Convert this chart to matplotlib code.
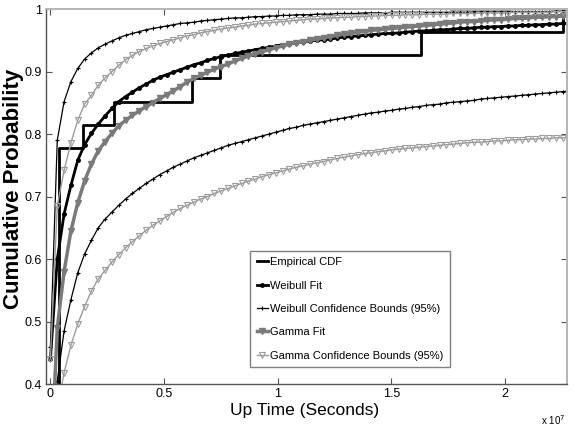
import numpy as np
import matplotlib
matplotlib.use("Agg")
import matplotlib.pyplot as plt
from matplotlib.ticker import FixedLocator, FuncFormatter

# --- DATOS ---
# muestras de tiempo en segundos (paso regular de 3e5 s)
x_grid = 2e4 + 3e5 * np.arange(77)

weibull_up = [
    0.460, 0.790, 0.852, 0.884, 0.905, 0.920, 0.930, 0.938, 0.944, 0.949,
    0.954, 0.958, 0.961, 0.964, 0.967, 0.969, 0.971, 0.973, 0.975, 0.977,
    0.978, 0.979, 0.981, 0.982, 0.983, 0.984, 0.985, 0.986, 0.986, 0.987,
    0.988, 0.988, 0.989, 0.989, 0.990, 0.990, 0.991, 0.991, 0.991, 0.992,
    0.992, 0.992, 0.993, 0.993, 0.993, 0.993, 0.994, 0.994, 0.994, 0.994,
    0.995, 0.995, 0.995, 0.995, 0.995, 0.995, 0.995, 0.995, 0.995, 0.995,
    0.995, 0.995, 0.996, 0.996, 0.996, 0.996, 0.996, 0.996, 0.996, 0.996,
    0.996, 0.996, 0.996, 0.996, 0.997, 0.997, 0.997]

weibull_fit = [
    0.440, 0.600, 0.672, 0.718, 0.758, 0.783, 0.801, 0.816, 0.829, 0.841,
    0.852, 0.860, 0.867, 0.874, 0.880, 0.886, 0.891, 0.895, 0.899, 0.903,
    0.907, 0.911, 0.914, 0.918, 0.921, 0.924, 0.926, 0.929, 0.931, 0.933,
    0.935, 0.937, 0.939, 0.941, 0.943, 0.944, 0.946, 0.947, 0.949, 0.950,
    0.951, 0.952, 0.954, 0.955, 0.956, 0.957, 0.958, 0.959, 0.960, 0.961,
    0.961, 0.962, 0.963, 0.964, 0.965, 0.965, 0.966, 0.967, 0.967, 0.968,
    0.969, 0.969, 0.970, 0.971, 0.971, 0.972, 0.972, 0.973, 0.973, 0.974,
    0.974, 0.975, 0.975, 0.976, 0.976, 0.977, 0.977]

weibull_low = [
    0.150, 0.405, 0.485, 0.535, 0.578, 0.608, 0.630, 0.650, 0.664, 0.675,
    0.686, 0.696, 0.705, 0.713, 0.721, 0.728, 0.735, 0.741, 0.747, 0.752,
    0.757, 0.762, 0.766, 0.770, 0.774, 0.778, 0.782, 0.785, 0.788, 0.791,
    0.794, 0.797, 0.800, 0.803, 0.806, 0.809, 0.811, 0.814, 0.816, 0.818,
    0.820, 0.822, 0.824, 0.826, 0.828, 0.830, 0.832, 0.834, 0.835, 0.837,
    0.838, 0.840, 0.841, 0.843, 0.844, 0.846, 0.847, 0.848, 0.850, 0.851,
    0.852, 0.853, 0.854, 0.856, 0.857, 0.858, 0.859, 0.860, 0.861, 0.862,
    0.863, 0.864, 0.865, 0.866, 0.867, 0.868, 0.869]

gamma_up = [
    0.440, 0.685, 0.742, 0.786, 0.822, 0.848, 0.862, 0.878, 0.890, 0.900,
    0.910, 0.919, 0.926, 0.932, 0.937, 0.941, 0.945, 0.948, 0.951, 0.954,
    0.957, 0.959, 0.962, 0.964, 0.966, 0.968, 0.970, 0.971, 0.973, 0.974,
    0.976, 0.977, 0.978, 0.979, 0.980, 0.981, 0.982, 0.983, 0.984, 0.984,
    0.985, 0.986, 0.986, 0.987, 0.987, 0.988, 0.988, 0.989, 0.989, 0.990,
    0.990, 0.990, 0.991, 0.991, 0.991, 0.992, 0.992, 0.992, 0.992, 0.993,
    0.993, 0.993, 0.993, 0.994, 0.994, 0.994, 0.994, 0.994, 0.995, 0.995,
    0.995, 0.995, 0.995, 0.995, 0.996, 0.996, 0.996]

gamma_fit = [
    0.250, 0.490, 0.580, 0.645, 0.690, 0.725, 0.752, 0.773, 0.788, 0.801,
    0.813, 0.822, 0.830, 0.837, 0.844, 0.850, 0.857, 0.863, 0.869, 0.876,
    0.883, 0.889, 0.894, 0.899, 0.904, 0.908, 0.912, 0.917, 0.921, 0.925,
    0.928, 0.932, 0.935, 0.938, 0.941, 0.944, 0.946, 0.948, 0.950, 0.952,
    0.954, 0.956, 0.958, 0.960, 0.961, 0.963, 0.964, 0.966, 0.967, 0.968,
    0.969, 0.970, 0.971, 0.972, 0.973, 0.974, 0.975, 0.976, 0.977, 0.978,
    0.979, 0.980, 0.980, 0.981, 0.982, 0.983, 0.983, 0.984, 0.985, 0.985,
    0.986, 0.987, 0.987, 0.988, 0.988, 0.989, 0.989]

gamma_low = [
    0.100, 0.360, 0.418, 0.462, 0.496, 0.524, 0.549, 0.568, 0.582, 0.595,
    0.607, 0.618, 0.628, 0.637, 0.646, 0.654, 0.661, 0.668, 0.675, 0.681,
    0.686, 0.691, 0.696, 0.700, 0.705, 0.709, 0.713, 0.717, 0.721, 0.725,
    0.728, 0.732, 0.735, 0.738, 0.741, 0.744, 0.747, 0.749, 0.752, 0.754,
    0.756, 0.759, 0.761, 0.763, 0.765, 0.767, 0.769, 0.770, 0.772, 0.773,
    0.775, 0.776, 0.777, 0.778, 0.779, 0.780, 0.781, 0.782, 0.783, 0.784,
    0.785, 0.786, 0.787, 0.787, 0.788, 0.789, 0.789, 0.790, 0.791, 0.791,
    0.792, 0.792, 0.793, 0.793, 0.794, 0.794, 0.795]

# CDF empirica (escalones)
ecdf_x = [0.0, 4.0e5, 1.45e6, 2.82e6, 6.26e6, 7.49e6, 1.63e7, 2.255e7, 2.4e7]
ecdf_y = [0.0, 0.778, 0.815, 0.852, 0.889, 0.926, 0.963, 1.0, 1.0]

x_ticks = [0, 0.5e7, 1e7, 1.5e7, 2e7]
y_ticks = [0.4, 0.5, 0.6, 0.7, 0.8, 0.9, 1.0]

# --- ESTILO ---
FUENTE = ['Liberation Sans', 'DejaVu Sans']
GRIS = '#7a7a7a'
GRIS_CLARO = '#9c9c9c'

fig = plt.figure(figsize=(5.79, 4.34), dpi=100)
ax = fig.add_axes([0.0794, 0.115, 0.9, 0.864])

ax.step(ecdf_x, ecdf_y, where='post', color='black', lw=2.0,
        label='Empirical CDF')
ax.plot(x_grid, weibull_fit, color='black', lw=2.0, marker='.', ms=5,
        label='Weibull Fit')
ax.plot(x_grid, weibull_up, color='black', lw=0.9, marker='+', ms=3.5,
        mew=0.8, label='Weibull Confidence Bounds (95%)')
ax.plot(x_grid, weibull_low, color='black', lw=0.9, marker='+', ms=3.5,
        mew=0.8)
ax.plot(x_grid, gamma_fit, color=GRIS, lw=2.5, marker='v', ms=4.5,
        label='Gamma Fit')
ax.plot(x_grid, gamma_up, color=GRIS_CLARO, lw=1.0, marker='v', ms=4,
        mfc='none', mew=0.8, label='Gamma Confidence Bounds (95%)')
ax.plot(x_grid, gamma_low, color=GRIS_CLARO, lw=1.0, marker='v', ms=4,
        mfc='none', mew=0.8)

ax.set_xlim(-1.76e5, 2.272e7)
ax.set_ylim(0.4, 1.0)

ax.xaxis.set_major_locator(FixedLocator(x_ticks))
ax.yaxis.set_major_locator(FixedLocator(y_ticks))
ax.xaxis.set_major_formatter(FuncFormatter(lambda v, p: '%g' % (v / 1e7)))
ax.yaxis.set_major_formatter(FuncFormatter(lambda v, p: '%g' % v))
ax.tick_params(direction='in', length=4, width=0.8, color='#555555',
               top=True, right=True, labelsize=9, pad=3)
for lab in ax.get_xticklabels() + ax.get_yticklabels():
    lab.set_family(FUENTE)

for lado in ['left', 'bottom']:
    ax.spines[lado].set_color('#555555')
    ax.spines[lado].set_linewidth(1.0)
for lado in ['top', 'right']:
    ax.spines[lado].set_color('#b5b5b5')
    ax.spines[lado].set_linewidth(1.4)

ax.set_xlabel('Up Time (Seconds)', family=FUENTE, fontsize=12.5)
ax.xaxis.set_label_coords(0.497, -0.05)
ax.set_ylabel('Cumulative Probability', family=FUENTE, fontsize=16,
              fontweight='bold')
ax.yaxis.set_label_coords(-0.043, 0.52)
fig.text(565 / 579, 1 - 420 / 434, r'x 10$^7$', ha='right', va='center',
         family=FUENTE, fontsize=7)

leg = ax.legend(loc='lower left', bbox_to_anchor=(0.392, 0.045),
                prop={'family': FUENTE, 'size': 8}, numpoints=1,
                handlelength=1.0, handletextpad=0.15, labelspacing=1.2,
                borderpad=0.6, fancybox=False, framealpha=1.0,
                borderaxespad=0)
leg.get_frame().set_edgecolor('#808080')
leg.get_frame().set_linewidth(1.0)

fig.savefig('out.png', dpi=100)
